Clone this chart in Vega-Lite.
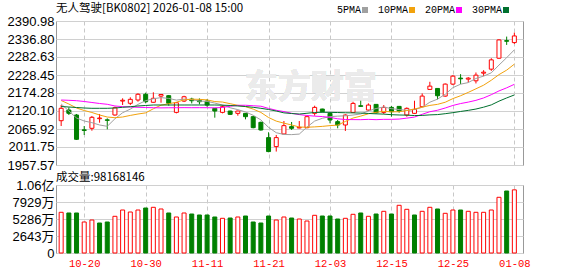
{
  "$schema": "https://vega.github.io/schema/vega-lite/v6.json",
  "background": "white",
  "padding": {"left": 6, "top": 2, "right": 5, "bottom": 2},
  "datasets": {
    "k": [
      {"date":"2025-10-15","open":2090.9,"high":2138.2,"low":2074.9,"close":2128.2,"volume":63280000,"vol_dir":"up","ma5":2141.2,"ma10":2151.7,"ma20":2153.2,"ma30":2133.6},
      {"date":"2025-10-16","open":2123.1,"high":2131.2,"low":2108.1,"close":2113.2,"volume":62190000,"vol_dir":"down","ma5":2120.1,"ma10":2141.2,"ma20":2152.3,"ma30":2132.1},
      {"date":"2025-10-17","open":2108.1,"high":2111.1,"low":2032.8,"close":2034.9,"volume":62190000,"vol_dir":"down","ma5":2099.0,"ma10":2129.1,"ma20":2151.1,"ma30":2130.6},
      {"date":"2025-10-20","open":2063.5,"high":2074.9,"low":2047.9,"close":2061.5,"volume":48200000,"vol_dir":"up","ma5":2090.0,"ma10":2121.6,"ma20":2148.7,"ma30":2129.1},
      {"date":"2025-10-21","open":2068.0,"high":2105.1,"low":2060.8,"close":2101.1,"volume":51300000,"vol_dir":"up","ma5":2085.0,"ma10":2115.6,"ma20":2145.7,"ma30":2128.2},
      {"date":"2025-10-22","open":2097.0,"high":2111.1,"low":2084.9,"close":2099.0,"volume":46640000,"vol_dir":"down","ma5":2078.0,"ma10":2108.1,"ma20":2142.7,"ma30":2128.2},
      {"date":"2025-10-23","open":2093.5,"high":2098.0,"low":2065.0,"close":2092.0,"volume":48200000,"vol_dir":"down","ma5":2074.0,"ma10":2102.0,"ma20":2140.3,"ma30":2128.2},
      {"date":"2025-10-24","open":2108.1,"high":2133.0,"low":2106.0,"close":2130.0,"volume":57060000,"vol_dir":"up","ma5":2096.7,"ma10":2099.9,"ma20":2135.2,"ma30":2129.1},
      {"date":"2025-10-27","open":2150.0,"high":2158.3,"low":2138.2,"close":2152.5,"volume":66850000,"vol_dir":"up","ma5":2114.9,"ma10":2102.0,"ma20":2133.1,"ma30":2131.2},
      {"date":"2025-10-28","open":2143.3,"high":2161.3,"low":2138.2,"close":2155.2,"volume":63740000,"vol_dir":"up","ma5":2125.7,"ma10":2106.8,"ma20":2132.2,"ma30":2133.0},
      {"date":"2025-10-29","open":2153.2,"high":2173.4,"low":2148.1,"close":2170.4,"volume":66850000,"vol_dir":"up","ma5":2140.0,"ma10":2111.0,"ma20":2131.2,"ma30":2135.2},
      {"date":"2025-10-30","open":2170.4,"high":2175.2,"low":2143.3,"close":2148.1,"volume":69960000,"vol_dir":"down","ma5":2151.2,"ma10":2114.5,"ma20":2130.6,"ma30":2136.7},
      {"date":"2025-10-31","open":2146.3,"high":2176.4,"low":2145.0,"close":2158.3,"volume":71050000,"vol_dir":"up","ma5":2156.9,"ma10":2126.8,"ma20":2130.0,"ma30":2138.2},
      {"date":"2025-11-03","open":2165.0,"high":2170.4,"low":2145.0,"close":2169.8,"volume":68410000,"vol_dir":"up","ma5":2160.4,"ma10":2137.6,"ma20":2129.5,"ma30":2138.2},
      {"date":"2025-11-04","open":2166.2,"high":2168.3,"low":2136.0,"close":2143.3,"volume":62190000,"vol_dir":"down","ma5":2158.0,"ma10":2141.9,"ma20":2129.8,"ma30":2138.2},
      {"date":"2025-11-05","open":2116.0,"high":2146.0,"low":2113.0,"close":2145.0,"volume":55970000,"vol_dir":"up","ma5":2152.9,"ma10":2146.5,"ma20":2130.0,"ma30":2138.2},
      {"date":"2025-11-06","open":2150.0,"high":2166.0,"low":2147.0,"close":2163.0,"volume":62190000,"vol_dir":"up","ma5":2155.8,"ma10":2153.6,"ma20":2130.2,"ma30":2138.2},
      {"date":"2025-11-07","open":2156.0,"high":2160.0,"low":2143.0,"close":2151.0,"volume":60630000,"vol_dir":"down","ma5":2154.4,"ma10":2155.7,"ma20":2130.0,"ma30":2138.2},
      {"date":"2025-11-10","open":2152.0,"high":2158.0,"low":2140.0,"close":2148.0,"volume":59080000,"vol_dir":"down","ma5":2150.0,"ma10":2155.2,"ma20":2130.1,"ma30":2138.2},
      {"date":"2025-11-11","open":2150.0,"high":2156.0,"low":2133.0,"close":2138.0,"volume":59080000,"vol_dir":"down","ma5":2149.0,"ma10":2153.5,"ma20":2130.0,"ma30":2138.2},
      {"date":"2025-11-12","open":2128.0,"high":2129.0,"low":2100.0,"close":2120.0,"volume":55970000,"vol_dir":"down","ma5":2144.0,"ma10":2148.5,"ma20":2129.6,"ma30":2138.2},
      {"date":"2025-11-13","open":2116.0,"high":2138.0,"low":2113.0,"close":2133.0,"volume":53950000,"vol_dir":"up","ma5":2138.0,"ma10":2147.0,"ma20":2130.6,"ma30":2137.6},
      {"date":"2025-11-14","open":2120.0,"high":2121.0,"low":2108.0,"close":2110.0,"volume":54410000,"vol_dir":"down","ma5":2129.8,"ma10":2142.1,"ma20":2134.4,"ma30":2136.7},
      {"date":"2025-11-17","open":2113.0,"high":2121.0,"low":2106.0,"close":2120.0,"volume":55970000,"vol_dir":"up","ma5":2124.2,"ma10":2137.2,"ma20":2137.3,"ma30":2135.2},
      {"date":"2025-11-18","open":2113.0,"high":2114.0,"low":2095.0,"close":2103.0,"volume":57520000,"vol_dir":"down","ma5":2117.2,"ma10":2133.1,"ma20":2137.4,"ma30":2133.6},
      {"date":"2025-11-19","open":2103.0,"high":2104.0,"low":2068.0,"close":2070.0,"volume":48200000,"vol_dir":"down","ma5":2107.2,"ma10":2125.8,"ma20":2135.9,"ma30":2131.2},
      {"date":"2025-11-20","open":2086.0,"high":2088.0,"low":2061.0,"close":2063.0,"volume":46640000,"vol_dir":"down","ma5":2093.2,"ma10":2115.8,"ma20":2134.5,"ma30":2128.2},
      {"date":"2025-11-21","open":2040.0,"high":2056.0,"low":1996.0,"close":1998.0,"volume":57520000,"vol_dir":"down","ma5":2070.8,"ma10":2100.5,"ma20":2127.9,"ma30":2124.6},
      {"date":"2025-11-24","open":2013.0,"high":2048.0,"low":1998.0,"close":2040.0,"volume":51300000,"vol_dir":"up","ma5":2054.8,"ma10":2089.7,"ma20":2122.3,"ma30":2120.1},
      {"date":"2025-11-25","open":2051.0,"high":2090.0,"low":2050.0,"close":2076.0,"volume":55970000,"vol_dir":"up","ma5":2049.4,"ma10":2083.5,"ma20":2118.3,"ma30":2114.5},
      {"date":"2025-11-26","open":2073.0,"high":2087.0,"low":2063.0,"close":2068.0,"volume":54410000,"vol_dir":"down","ma5":2049.0,"ma10":2078.1,"ma20":2113.2,"ma30":2112.5},
      {"date":"2025-11-27","open":2069.0,"high":2090.0,"low":2068.0,"close":2071.0,"volume":52860000,"vol_dir":"up","ma5":2050.6,"ma10":2071.9,"ma20":2109.3,"ma30":2111.0},
      {"date":"2025-11-28","open":2070.0,"high":2104.0,"low":2068.0,"close":2103.0,"volume":49750000,"vol_dir":"up","ma5":2071.6,"ma10":2071.2,"ma20":2106.6,"ma30":2113.3},
      {"date":"2025-12-01","open":2113.0,"high":2136.0,"low":2106.0,"close":2131.0,"volume":58610000,"vol_dir":"up","ma5":2089.8,"ma10":2072.3,"ma20":2104.6,"ma30":2115.6},
      {"date":"2025-12-02","open":2126.0,"high":2127.0,"low":2116.0,"close":2118.0,"volume":57520000,"vol_dir":"down","ma5":2098.2,"ma10":2073.8,"ma20":2103.4,"ma30":2116.2},
      {"date":"2025-12-03","open":2113.0,"high":2116.0,"low":2083.0,"close":2093.0,"volume":57520000,"vol_dir":"down","ma5":2103.2,"ma10":2076.1,"ma20":2100.9,"ma30":2116.0},
      {"date":"2025-12-04","open":2088.0,"high":2093.0,"low":2068.0,"close":2078.0,"volume":52860000,"vol_dir":"down","ma5":2104.6,"ma10":2077.6,"ma20":2096.6,"ma30":2115.5},
      {"date":"2025-12-05","open":2078.0,"high":2110.0,"low":2060.0,"close":2108.0,"volume":53950000,"vol_dir":"up","ma5":2105.6,"ma10":2088.6,"ma20":2094.5,"ma30":2114.8},
      {"date":"2025-12-08","open":2116.0,"high":2148.0,"low":2116.0,"close":2143.0,"volume":60170000,"vol_dir":"up","ma5":2108.0,"ma10":2098.9,"ma20":2094.2,"ma30":2114.5},
      {"date":"2025-12-09","open":2136.0,"high":2151.0,"low":2133.0,"close":2134.0,"volume":62190000,"vol_dir":"down","ma5":2111.2,"ma10":2104.7,"ma20":2094.0,"ma30":2113.8},
      {"date":"2025-12-10","open":2123.0,"high":2143.0,"low":2120.0,"close":2138.0,"volume":57060000,"vol_dir":"up","ma5":2120.2,"ma10":2111.7,"ma20":2094.9,"ma30":2112.7},
      {"date":"2025-12-11","open":2140.0,"high":2140.0,"low":2112.0,"close":2115.0,"volume":60630000,"vol_dir":"down","ma5":2127.6,"ma10":2116.1,"ma20":2094.0,"ma30":2111.6},
      {"date":"2025-12-12","open":2116.0,"high":2138.0,"low":2111.0,"close":2131.0,"volume":64830000,"vol_dir":"up","ma5":2132.2,"ma10":2118.9,"ma20":2095.0,"ma30":2110.7},
      {"date":"2025-12-15","open":2131.0,"high":2135.0,"low":2103.0,"close":2118.0,"volume":60630000,"vol_dir":"down","ma5":2127.2,"ma10":2117.6,"ma20":2095.0,"ma30":2109.0},
      {"date":"2025-12-16","open":2134.0,"high":2135.0,"low":2115.0,"close":2120.0,"volume":74160000,"vol_dir":"up","ma5":2124.4,"ma10":2117.8,"ma20":2095.8,"ma30":2108.1},
      {"date":"2025-12-17","open":2108.0,"high":2131.0,"low":2103.0,"close":2128.0,"volume":67940000,"vol_dir":"up","ma5":2122.4,"ma10":2121.3,"ma20":2098.7,"ma30":2107.6},
      {"date":"2025-12-18","open":2113.0,"high":2151.0,"low":2111.0,"close":2125.0,"volume":59080000,"vol_dir":"down","ma5":2124.4,"ma10":2126.0,"ma20":2101.8,"ma30":2106.4},
      {"date":"2025-12-19","open":2133.0,"high":2173.0,"low":2133.0,"close":2165.0,"volume":64830000,"vol_dir":"up","ma5":2131.2,"ma10":2131.7,"ma20":2110.2,"ma30":2106.8},
      {"date":"2025-12-22","open":2185.0,"high":2208.0,"low":2185.0,"close":2195.0,"volume":71050000,"vol_dir":"up","ma5":2146.6,"ma10":2136.9,"ma20":2117.9,"ma30":2108.4},
      {"date":"2025-12-23","open":2188.0,"high":2188.0,"low":2155.0,"close":2166.0,"volume":68410000,"vol_dir":"down","ma5":2155.8,"ma10":2140.1,"ma20":2122.4,"ma30":2109.3},
      {"date":"2025-12-24","open":2165.0,"high":2203.0,"low":2163.0,"close":2201.0,"volume":61720000,"vol_dir":"up","ma5":2170.4,"ma10":2146.4,"ma20":2129.1,"ma30":2112.0},
      {"date":"2025-12-25","open":2201.0,"high":2228.0,"low":2198.0,"close":2225.0,"volume":66850000,"vol_dir":"up","ma5":2190.4,"ma10":2157.4,"ma20":2136.8,"ma30":2115.1},
      {"date":"2025-12-26","open":2219.0,"high":2231.0,"low":2201.0,"close":2217.0,"volume":66850000,"vol_dir":"down","ma5":2200.8,"ma10":2166.0,"ma20":2142.5,"ma30":2118.7},
      {"date":"2025-12-29","open":2216.0,"high":2222.0,"low":2206.0,"close":2219.0,"volume":64830000,"vol_dir":"up","ma5":2205.6,"ma10":2176.1,"ma20":2146.9,"ma30":2122.0},
      {"date":"2025-12-30","open":2211.0,"high":2236.0,"low":2203.0,"close":2228.0,"volume":63280000,"vol_dir":"up","ma5":2218.0,"ma10":2186.9,"ma20":2152.2,"ma30":2126.0},
      {"date":"2025-12-31","open":2234.0,"high":2243.0,"low":2225.0,"close":2237.0,"volume":63280000,"vol_dir":"up","ma5":2225.2,"ma10":2197.8,"ma20":2159.4,"ma30":2131.6},
      {"date":"2026-01-05","open":2246.0,"high":2279.0,"low":2241.0,"close":2274.0,"volume":66850000,"vol_dir":"up","ma5":2235.0,"ma10":2212.7,"ma20":2169.2,"ma30":2138.5},
      {"date":"2026-01-06","open":2279.0,"high":2336.0,"low":2277.0,"close":2334.0,"volume":86600000,"vol_dir":"up","ma5":2258.4,"ma10":2229.6,"ma20":2180.5,"ma30":2149.7},
      {"date":"2026-01-07","open":2332.0,"high":2344.0,"low":2319.0,"close":2330.0,"volume":96390000,"vol_dir":"down","ma5":2280.6,"ma10":2243.1,"ma20":2189.8,"ma30":2159.4},
      {"date":"2026-01-08","open":2326.0,"high":2356.0,"low":2322.0,"close":2346.0,"volume":98168146,"vol_dir":"up","ma5":2304.2,"ma10":2261.1,"ma20":2200.4,"ma30":2168.4}
    ]
  },
  "data": {"name": "k"},
  "spacing": 20,
  "bounds": "flush",
  "vconcat": [
    {
      "width": 467,
      "height": 144,
      "title": {"text": "无人驾驶[BK0802] 2026-01-08 15:00", "anchor": "start", "frame": "group", "font": "Noto Sans CJK SC", "fontSize": 11.5, "fontWeight": "normal", "color": "#000000", "offset": 1},
      "encoding": {
        "x": {
          "field": "date", "type": "ordinal",
          "scale": {"type": "point", "padding": 0.9, "align": 0.374},
          "axis": {
            "values": ["2025-10-20", "2025-10-30", "2025-11-11", "2025-11-21", "2025-12-03", "2025-12-15", "2025-12-25", "2026-01-08"],
            "labels": false, "ticks": false, "domain": false, "grid": true, "gridDash": [4, 3], "gridColor": "#c8c8c8", "title": null
          }
        }
      },
      "layer": [
        {
          "mark": {"type": "text", "text": "东方财富", "font": "Noto Sans CJK SC", "fontSize": 33, "fontWeight": "bold", "color": "#ebebeb", "dx": -4},
          "encoding": {
            "x": {"datum": "2025-12-01", "type": "ordinal"},
            "y": {
              "datum": 2190, "type": "quantitative",
              "scale": {"domain": [1957.57, 2390.98], "nice": false, "zero": false},
              "axis": {
                "values": [1957.57, 2011.75, 2065.92, 2120.10, 2174.28, 2228.45, 2282.63, 2336.80, 2390.98],
                "format": ".2f", "labelFont": "Liberation Sans", "labelFontSize": 13, "labelColor": "#000000", "labelPadding": 2, "labelFlush": false,
                "ticks": false, "domain": false, "grid": true, "gridColor": "#d0d0d0", "title": null
              }
            }
          }
        },
        {
          "mark": {"type": "rule", "strokeWidth": 1},
          "encoding": {
            "y": {
              "field": "low", "type": "quantitative",
              "scale": {"domain": [1957.57, 2390.98], "nice": false, "zero": false},
              "axis": {
                "values": [1957.57, 2011.75, 2065.92, 2120.10, 2174.28, 2228.45, 2282.63, 2336.80, 2390.98],
                "format": ".2f", "labelFont": "Liberation Sans", "labelFontSize": 13, "labelColor": "#000000", "labelPadding": 2, "labelFlush": false,
                "ticks": false, "domain": false, "grid": true, "gridColor": "#d0d0d0", "title": null
              }
            },
            "y2": {"field": "high"},
            "color": {"condition": {"test": "datum.close >= datum.open", "value": "#ff0000"}, "value": "#008000"}
          }
        },
        {
          "mark": {"type": "bar", "size": 4, "strokeWidth": 1},
          "encoding": {
            "y": {
              "field": "open", "type": "quantitative",
              "scale": {"domain": [1957.57, 2390.98], "nice": false, "zero": false},
              "axis": {
                "values": [1957.57, 2011.75, 2065.92, 2120.10, 2174.28, 2228.45, 2282.63, 2336.80, 2390.98],
                "format": ".2f", "labelFont": "Liberation Sans", "labelFontSize": 13, "labelColor": "#000000", "labelPadding": 2, "labelFlush": false,
                "ticks": false, "domain": false, "grid": true, "gridColor": "#d0d0d0", "title": null
              }
            },
            "y2": {"field": "close"},
            "fill": {"condition": {"test": "datum.close >= datum.open", "value": "#ffffff"}, "value": "#008000"},
            "stroke": {"condition": {"test": "datum.close >= datum.open", "value": "#ff0000"}, "value": "#008000"}
          }
        },
        {
          "transform": [{"fold": ["ma5", "ma10", "ma20", "ma30"], "as": ["ma", "value"]}],
          "mark": {"type": "line", "strokeWidth": 1},
          "encoding": {
            "y": {
              "field": "value", "type": "quantitative",
              "scale": {"domain": [1957.57, 2390.98], "nice": false, "zero": false},
              "axis": {
                "values": [1957.57, 2011.75, 2065.92, 2120.10, 2174.28, 2228.45, 2282.63, 2336.80, 2390.98],
                "format": ".2f", "labelFont": "Liberation Sans", "labelFontSize": 13, "labelColor": "#000000", "labelPadding": 2, "labelFlush": false,
                "ticks": false, "domain": false, "grid": true, "gridColor": "#d0d0d0", "title": null
              }
            },
            "color": {
              "field": "ma", "type": "nominal",
              "scale": {"domain": ["ma5", "ma10", "ma20", "ma30"], "range": ["#a0a0a0", "#f2a20c", "#ff00ff", "#00702e"]},
              "legend": {
                "orient": "none", "legendX": 304, "legendY": -16, "direction": "horizontal", "title": null,
                "labelExpr": "replace(datum.label, 'ma', '') + 'PMA'",
                "symbolType": "square", "symbolSize": 4, "symbolStrokeWidth": 4,
                "labelAlign": "right", "labelOffset": -9, "columnPadding": 3,
                "labelFont": "Liberation Mono", "labelFontSize": 10, "labelColor": "#000000"
              }
            }
          }
        }
      ]
    },
    {
      "width": 467,
      "height": 68,
      "title": {"text": "成交量:98168146", "anchor": "start", "frame": "group", "font": "Noto Sans CJK SC", "fontSize": 11.5, "fontWeight": "normal", "color": "#000000", "offset": -4},
      "mark": {"type": "bar", "size": 4, "strokeWidth": 1},
      "encoding": {
        "x": {
          "field": "date", "type": "ordinal",
          "scale": {"type": "point", "padding": 0.9, "align": 0.374},
          "axis": {
            "values": ["2025-10-20", "2025-10-30", "2025-11-11", "2025-11-21", "2025-12-03", "2025-12-15", "2025-12-25", "2026-01-08"],
            "labelExpr": "slice(datum.value, 5)", "labelAngle": 0,
            "labelFont": "Liberation Mono", "labelFontSize": 10.5, "labelColor": "#ff0000", "labelPadding": 5,
            "ticks": false, "domain": false, "grid": true, "gridDash": [4, 3], "gridColor": "#c8c8c8", "title": null
          }
        },
        "y": {
          "field": "volume", "type": "quantitative",
          "scale": {"domain": [0, 105720000], "nice": false, "zero": true},
          "axis": {
            "values": [0, 26430000, 52860000, 79290000, 105720000],
            "labelExpr": "datum.value == 0 ? '0' : (datum.value >= 100000000 ? format(datum.value / 100000000, '.2f') + '亿' : format(datum.value / 10000, 'd') + '万')",
            "labelFont": "Liberation Sans, Noto Sans CJK SC", "labelFontSize": 13, "labelColor": "#000000", "labelPadding": 2, "labelFlush": false,
            "ticks": false, "domain": false, "grid": true, "gridColor": "#d0d0d0", "title": null
          }
        },
        "fill": {"condition": {"test": "datum.vol_dir == 'up'", "value": "#ffffff"}, "value": "#008000"},
        "stroke": {"condition": {"test": "datum.vol_dir == 'up'", "value": "#ff0000"}, "value": "#008000"}
      }
    }
  ],
  "resolve": {"scale": {"x": "independent", "y": "independent"}},
  "config": {
    "view": {"stroke": "#999999", "strokeWidth": 1}
  }
}
